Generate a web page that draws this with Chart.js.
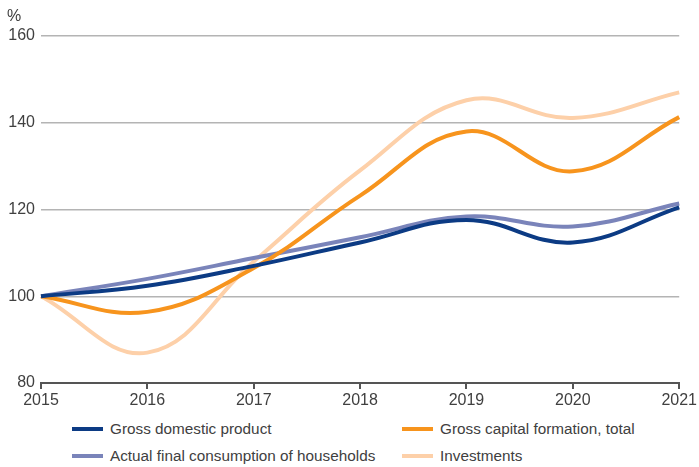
<!DOCTYPE html>
<html lang="en">
  <head>
    <meta charset="UTF-8" />
    <title>Growth indices</title>
    <style>
      body {
        margin: 0;
        background: #fff;
        font-family: "Liberation Sans Narrow", "Arial Narrow", "Liberation Sans", sans-serif;
        color: #404040;
      }
      #wrap {
        position: relative;
        width: 699px;
        height: 467px;
      }
      #unit {
        position: absolute;
        left: 7px;
        top: 7px;
        font-size: 16px;
      }
      #legend {
        position: absolute;
        left: 0;
        top: 420px;
        width: 699px;
        font-size: 15.3px;
      }
      .item {
        position: absolute;
        display: flex;
        align-items: center;
        white-space: nowrap;
      }
      .swatch {
        width: 31px;
        height: 4px;
        margin-right: 7px;
      }
    </style>
  </head>
  <body>
    <script src="https://cdn.jsdelivr.net/npm/chart.js@4.4.1/dist/chart.umd.min.js"></script>
    <div id="wrap">
      <canvas id="chart" width="699" height="420"></canvas>
      <div id="unit">%</div>
      <div id="legend"></div>
    </div>
    <script>
      const years = ["2015", "2016", "2017", "2018", "2019", "2020", "2021"];
      const gdp = [100, 102.4, 107, 112.4, 117.6, 112.4, 120.5];
      const capitalFormation = [100, 96.4, 106.5, 123.2, 138, 128.8, 141.3];
      const householdConsumption = [100, 104, 108.8, 113.6, 118.4, 116.1, 121.4];
      const investments = [100, 87, 108, 129, 145.2, 141.1, 147];
      const yTicks = [80, 100, 120, 140, 160];

      const series = [
        { label: "Gross domestic product", data: gdp, color: "#0c3b84" },
        { label: "Gross capital formation, total", data: capitalFormation, color: "#f7941d" },
        { label: "Actual final consumption of households", data: householdConsumption, color: "#7a84ba" },
        { label: "Investments", data: investments, color: "#fdd0a9" },
      ];

      const font = { family: "'Liberation Sans Narrow', 'Arial Narrow', sans-serif", size: 16 };

      var chart = new Chart(document.getElementById("chart"), {
        type: "line",
        data: {
          labels: years,
          // draw the first series on top
          datasets: series
            .map((s, i) => ({
              label: s.label,
              data: s.data,
              borderColor: s.color,
              borderWidth: 4,
              pointRadius: 0,
              tension: 0.4,
              fill: false,
              order: i,
            })),
        },
        options: {
          responsive: false,
          animation: false,
          layout: { padding: { top: 36, right: 18, left: 0, bottom: 0 } },
          plugins: { legend: { display: false }, tooltip: { enabled: false } },
          scales: {
            x: {
              grid: {
                drawOnChartArea: false,
                drawTicks: true,
                tickLength: 6,
                color: "#555",
                lineWidth: 2,
              },
              border: { display: true, color: "#555", width: 2 },
              ticks: { color: "#404040", font: font, padding: 2, maxRotation: 0 },
              afterFit: (scale) => {
                scale.height = 37;
              },
            },
            y: {
              min: 80,
              max: 160,
              afterBuildTicks: (scale) => {
                scale.ticks = yTicks.map((v) => ({ value: v }));
              },
              grid: { drawTicks: false, color: "#b4b4b4", lineWidth: 1.5 },
              border: { display: false },
              ticks: { color: "#404040", font: font, padding: 6 },
              afterFit: (scale) => {
                scale.width = 41;
              },
            },
          },
        },
      });

      // legend in two columns under the chart
      const legend = document.getElementById("legend");
      const spots = [
        [72, 0],
        [402, 0],
        [72, 27],
        [402, 27],
      ];
      series.forEach((s, i) => {
        const item = document.createElement("div");
        item.className = "item";
        item.style.left = spots[i][0] + "px";
        item.style.top = spots[i][1] + "px";
        item.innerHTML =
          '<span class="swatch" style="background:' + s.color + '"></span>' + s.label;
        legend.appendChild(item);
      });
    </script>
  </body>
</html>
